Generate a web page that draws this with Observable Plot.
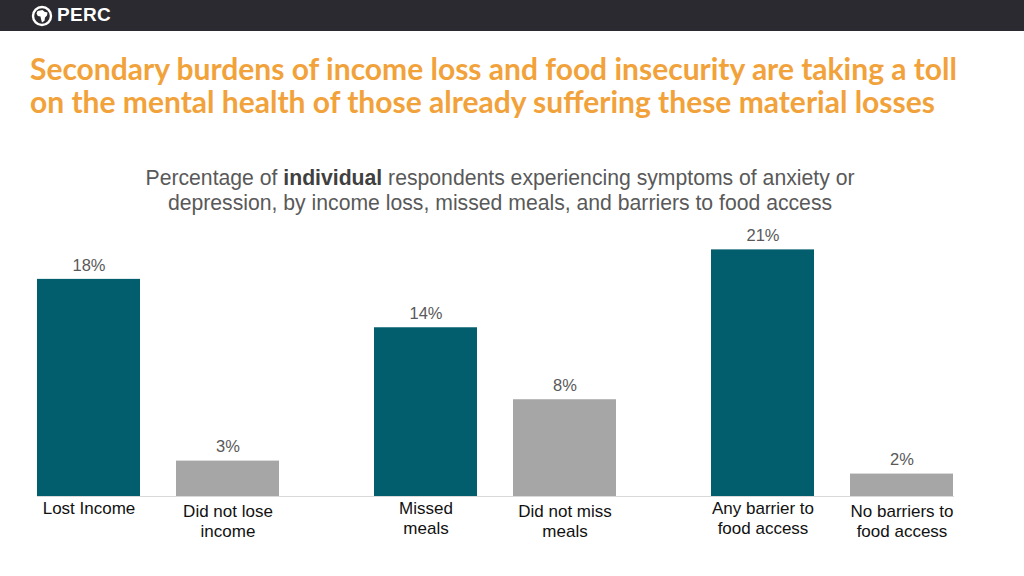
<!DOCTYPE html>
<html>
<head>
<meta charset="utf-8">
<script src="https://cdn.jsdelivr.net/npm/d3@7"></script>
<script src="https://cdn.jsdelivr.net/npm/@observablehq/plot@0.6"></script>
<style>
  html, body { margin: 0; padding: 0; background: #fff; }
  #page { position: relative; width: 1024px; height: 576px; overflow: hidden; background: #fff; }
  #header { position: absolute; left: 0; top: 0; width: 1024px; height: 31px; background: #2b2a30; }
  #logo { position: absolute; left: 31px; top: 5px; }
  #brand { position: absolute; left: 57px; top: 4px; font-family: "Liberation Sans", Arial, sans-serif; font-weight: bold; font-size: 19px; color: #fff; letter-spacing: 0.3px; }
  #title { position: absolute; left: 30px; top: 52px; font-family: Lato, "Open Sans", sans-serif; font-weight: bold; font-size: 30px; line-height: 33px; color: #f2a23a; white-space: nowrap; }
  #subtitle { position: absolute; left: 0; top: 165px; width: 1000px; text-align: center; font-family: "Liberation Sans", Arial, sans-serif; font-size: 21.2px; line-height: 25px; color: #595959; }
  #subtitle b { color: #404040; }
  #chart { position: absolute; left: 0; top: 210px; }
</style>
</head>
<body>
<div id="page">
  <div id="header">
    <svg id="logo" width="22" height="22" viewBox="0 0 22 22">
      <circle cx="11" cy="11" r="9" fill="none" stroke="#fff" stroke-width="2.4"/>
      <path d="M6.5 6 L11.5 5 L13.5 6.8 L16.5 7.5 L16 10.5 L14 12.5 L13.5 15.8 L11 17.5 L10 14 L9.5 11.5 L6.8 11 L5.5 8.5 Z" fill="#fff"/>
    </svg>
    <div id="brand">PERC</div>
  </div>
  <div id="title">Secondary burdens of income loss and food insecurity are taking a toll<br>on the mental health of those already suffering these material losses</div>
  <div id="subtitle">Percentage of <b>individual</b> respondents experiencing symptoms of anxiety or<br>depression, by income loss, missed meals, and barriers to food access</div>
  <div id="chart"></div>
</div>
<script>
const groups = ["Income loss", "Missed meals", "Food access"];
const categories = ["Lost Income", "Did not lose\nincome", "Missed\nmeals", "Did not miss\nmeals", "Any barrier to\nfood access", "No barriers to\nfood access"];
const categoryGroup = ["Income loss", "Income loss", "Missed meals", "Missed meals", "Food access", "Food access"];
const categoryKind = ["affected", "not affected", "affected", "not affected", "affected", "not affected"];
const values = [18.4, 3.0, 14.3, 8.2, 20.9, 1.9];
const valueLabels = ["18%", "3%", "14%", "8%", "21%", "2%"];

const data = categories.map((c, i) => ({
  category: c,
  group: categoryGroup[i],
  kind: categoryKind[i],
  value: values[i],
  label: valueLabels[i]
}));

const plot = Plot.plot({
  width: 1024,
  height: 366,
  marginLeft: 37,
  marginRight: 51,
  marginTop: 26.4,
  marginBottom: 80,
  style: { fontFamily: "'Liberation Sans', Arial, sans-serif", background: "transparent" },
  fx: { domain: groups, paddingInner: 0.282, paddingOuter: 0.0297, align: 0, axis: null, label: null },
  x: { domain: ["affected", "not affected"], paddingInner: 0.259, paddingOuter: 0, axis: null },
  y: { domain: [0, 22], axis: null },
  color: { domain: ["affected", "not affected"], range: ["#025e6d", "#a6a6a6"] },
  marks: [
    Plot.barY(data, { fx: "group", x: "kind", y: "value", fill: "kind" }),
    Plot.frame({ anchor: "bottom", facet: "super", stroke: "#d9d9d9", strokeWidth: 1 }),
    Plot.text(data, { fx: "group", x: "kind", y: "value", text: "label", dy: -14, fill: "#595959", fontSize: 16.5 }),
    Plot.text(data, { filter: d => d.kind === "affected", fx: "group", x: "kind", text: "category", frameAnchor: "bottom", lineAnchor: "top", dy: 3, fill: "#111", fontSize: 17, lineHeight: 1.2 }),
    Plot.text(data, { filter: d => d.kind !== "affected", fx: "group", x: "kind", text: "category", frameAnchor: "bottom", lineAnchor: "top", dy: 6, fill: "#111", fontSize: 17, lineHeight: 1.2 })
  ]
});
document.getElementById("chart").appendChild(plot);
</script>
</body>
</html>
